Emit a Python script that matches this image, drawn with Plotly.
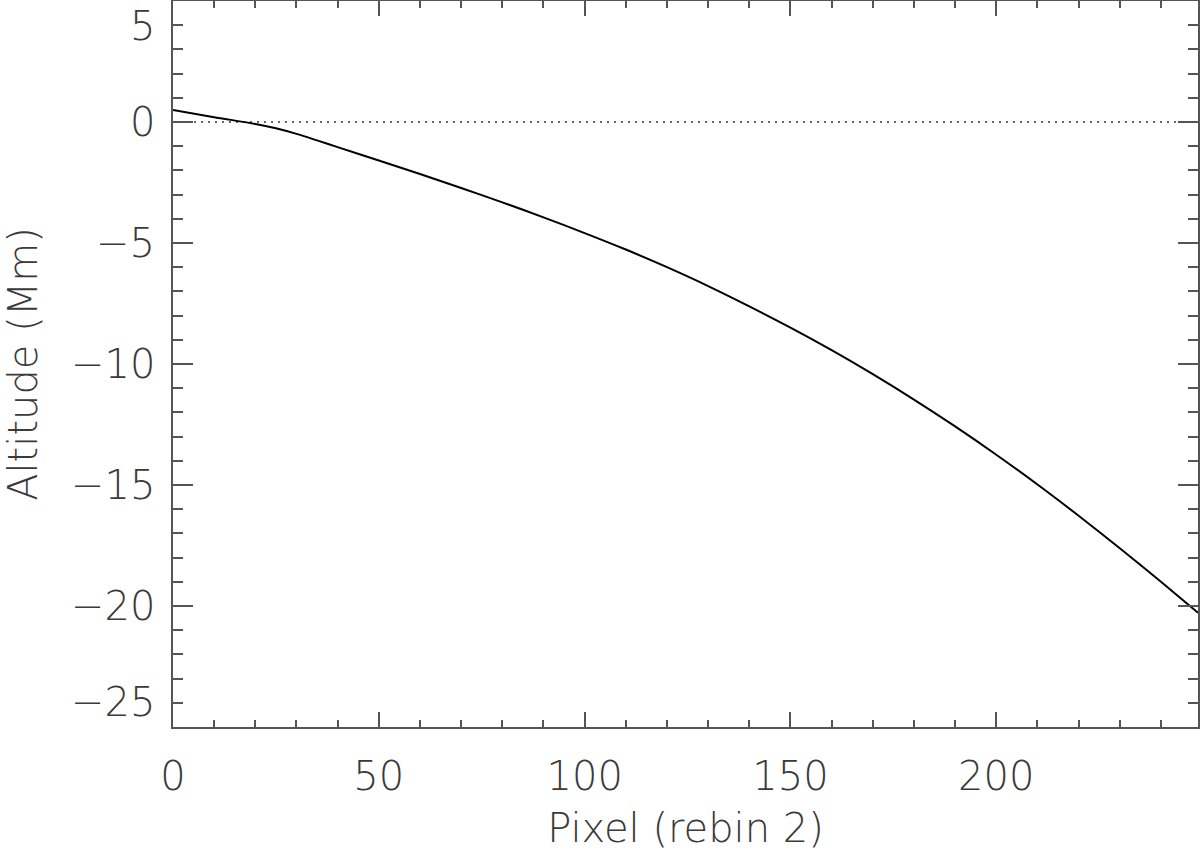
import plotly.graph_objects as go

# Data
pixel = [0, 10, 20, 25, 30, 35, 40, 50, 60, 70, 80, 90, 100, 110, 120, 130, 140,
         150, 160, 170, 180, 190, 200, 210, 220, 230, 240, 249]
altitude = [0.5, 0.2, -0.08, -0.26, -0.49, -0.76, -1.04, -1.59, -2.15, -2.73,
            -3.32, -3.94, -4.59, -5.27, -6.0, -6.78, -7.62, -8.5, -9.43, -10.42,
            -11.47, -12.58, -13.75, -14.98, -16.27, -17.61, -19.0, -20.28]
x_ticks = [0, 50, 100, 150, 200]
y_ticks = [-25, -20, -15, -10, -5, 0, 5]
x_range = [0, 249]
y_range = [-25, 5]

FONT = "DejaVu Sans ExtraLight, DejaVu Sans Light, Roboto Light, Lato Light, DejaVu Sans"
FS = 40
TXT = "#3a3a3a"
AX = "#555555"

fig = go.Figure()
fig.add_trace(go.Scatter(x=x_range, y=[0, 0], mode="lines",
                         line=dict(color="#666666", width=2, dash="2px,5px"),
                         hoverinfo="skip", showlegend=False))
fig.add_trace(go.Scatter(x=pixel, y=altitude, mode="lines",
                         line=dict(color="black", width=2, shape="spline", smoothing=0.8),
                         showlegend=False))

# y tick labels as annotations (end labels kept inside like the reference)
for v in y_ticks:
    anchor = "middle"
    if v == y_range[1]:
        anchor = "top"
    elif v == y_range[0]:
        anchor = "bottom"
    label = str(v).replace("-", "\u2212")
    fig.add_annotation(x=0, xref="paper", xanchor="right", xshift=-16,
                       y=v, yref="y", yanchor=anchor, text=label, showarrow=False,
                       font=dict(family=FONT, size=FS, color=TXT, weight=200))

fig.update_layout(
    width=1200, height=852,
    margin=dict(l=173, r=2, t=1, b=125, autoexpand=False),
    paper_bgcolor="white", plot_bgcolor="white",
    font=dict(family=FONT, size=FS, color=TXT, weight=200),
    xaxis=dict(range=x_range, tickvals=x_ticks, ticks="inside", ticklen=15,
               tickwidth=1.5, tickcolor=AX, showline=True, linecolor=AX, linewidth=1.5,
               mirror="allticks", showgrid=False, zeroline=False, automargin=False,
               minor=dict(dtick=10, ticklen=7, tickwidth=1.5, tickcolor=AX, ticks="inside", showgrid=False),
               tickfont=dict(family=FONT, size=FS, color=TXT, weight=200),
               ticklabelstandoff=13,
               title=dict(text="Pixel (rebin 2)", standoff=16,
                          font=dict(family=FONT, size=FS, color=TXT, weight=200))),
    yaxis=dict(range=y_range, tickvals=y_ticks, ticks="inside", ticklen=20,
               tickwidth=1.5, tickcolor=AX, showline=True, linecolor=AX, linewidth=1.5,
               mirror="allticks", showgrid=False, zeroline=False, showticklabels=False,
               automargin=False,
               minor=dict(dtick=1, ticklen=10, tickwidth=1.5, tickcolor=AX, ticks="inside", showgrid=False),
               title=dict(text="Altitude (Mm)", standoff=126,
                          font=dict(family=FONT, size=FS, color=TXT, weight=200))),
)

fig.write_html("out.html", config={"displayModeBar": False},
               post_script="document.body.style.margin='0';document.body.style.overflow='hidden';")
